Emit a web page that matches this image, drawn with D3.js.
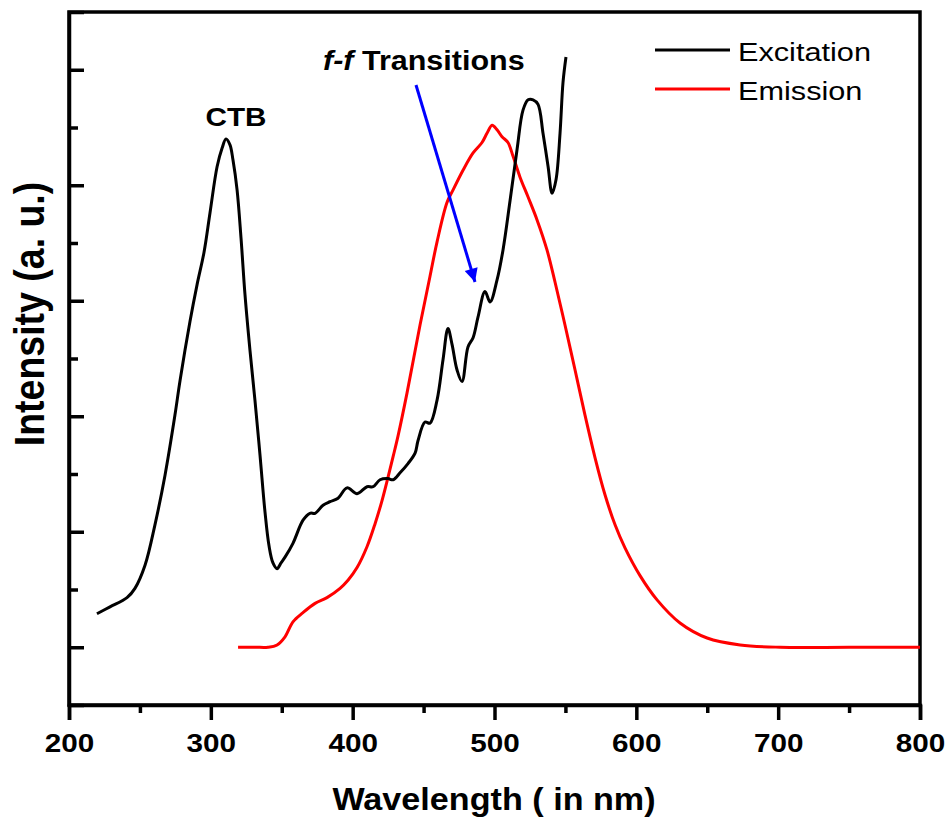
<!DOCTYPE html>
<html>
<head>
<meta charset="utf-8">
<script src="https://cdn.jsdelivr.net/npm/d3@7"></script>
<style>
  html, body { margin: 0; padding: 0; background: #fff; }
  svg { display: block; font-family: Arial, "Liberation Sans", sans-serif; }
</style>
</head>
<body>
<svg id="chart" width="951" height="823"></svg>
<script>
// ---- data ----
const excitationWavelength = [219.7, 228.9, 240.9, 246.5, 253.6, 260.6, 267.7, 274.7, 278.3, 285.3, 290.3, 295.2, 299.4, 304.4, 307.9, 310.7, 313.5, 315.6, 318.5, 321.3, 324.1, 327.6, 331.1, 334.7, 338.2, 341.0, 343.8, 346.7, 349.5, 352.3, 357.9, 365.0, 369.9, 373.5, 379.1, 384.0, 389.7, 396.0, 403.1, 410.1, 414.4, 419.3, 424.9, 428.5, 433.4, 439.0, 444.0, 446.1, 451.0, 454.5, 459.5, 463.7, 467.2, 470.1, 473.6, 477.1, 481.3, 484.9, 488.4, 493.3, 496.9, 501.8, 506.0, 511.0, 515.9, 520.1, 523.7, 527.2, 530.7, 534.2, 537.8, 540.6, 543.4, 546.2, 548.3, 550.4];
const excitationIntensity = [0.29, 0.35, 0.43, 0.51, 0.71, 1.06, 1.49, 2.01, 2.31, 2.82, 3.14, 3.42, 3.76, 4.16, 4.32, 4.40, 4.35, 4.22, 3.96, 3.54, 3.05, 2.57, 2.14, 1.66, 1.17, 0.88, 0.73, 0.68, 0.73, 0.78, 0.90, 1.10, 1.16, 1.16, 1.23, 1.26, 1.29, 1.38, 1.33, 1.39, 1.39, 1.45, 1.46, 1.45, 1.51, 1.59, 1.68, 1.79, 1.95, 1.94, 2.14, 2.49, 2.76, 2.62, 2.40, 2.30, 2.60, 2.68, 2.86, 3.08, 2.99, 3.18, 3.44, 3.87, 4.31, 4.65, 4.74, 4.74, 4.70, 4.45, 4.16, 3.93, 4.05, 4.45, 4.89, 5.11];

const emissionWavelength = [319.2, 331.2, 340.3, 346.7, 352.3, 357.9, 365.0, 373.5, 381.9, 391.1, 396.7, 403.1, 410.1, 415.8, 420.7, 424.9, 428.5, 432.0, 438.3, 447.5, 454.5, 459.5, 466.5, 470.8, 477.8, 484.9, 491.2, 494.7, 498.3, 501.8, 505.3, 509.5, 513.1, 518.0, 523.6, 530.0, 537.0, 542.7, 549.7, 556.8, 563.8, 570.9, 577.9, 585.0, 592.0, 602.6, 614.6, 630.8, 649.9, 673.2, 701.4, 750.0, 800.0];
const emissionIntensity = [0.00, 0.00, 0.00, 0.02, 0.09, 0.22, 0.30, 0.38, 0.43, 0.51, 0.58, 0.69, 0.87, 1.07, 1.27, 1.47, 1.65, 1.83, 2.20, 2.79, 3.21, 3.51, 3.85, 3.96, 4.13, 4.28, 4.37, 4.45, 4.52, 4.48, 4.42, 4.37, 4.25, 4.07, 3.90, 3.70, 3.44, 3.16, 2.79, 2.40, 2.01, 1.64, 1.32, 1.06, 0.86, 0.62, 0.41, 0.21, 0.08, 0.02, 0.00, 0.00, 0.00];

const xMajorTicks = [200, 300, 400, 500, 600, 700, 800];
const xMinorTicks = [250, 350, 450, 550, 650, 750];
const yMajorTicks = [0, 1, 2, 3, 4, 5];
const yMinorTicks = [0.5, 1.5, 2.5, 3.5, 4.5];
const seriesNames = ["Excitation", "Emission"];
const seriesColors = ["#000000", "#ff0000"];

// ---- layout ----
const svg = d3.select("#chart");
const plotLeft = 69, plotRight = 920, plotTop = 12, plotBottom = 705;
const x = d3.scaleLinear().domain([200, 800]).range([plotLeft, plotRight]);
const y = d3.scaleLinear().domain([-0.5, 5.5]).range([plotBottom, plotTop]);
const SX = 1.12; // horizontal stretch of the original picture's text

// frame
svg.append("rect")
  .attr("x", plotLeft).attr("y", plotTop)
  .attr("width", plotRight - plotLeft).attr("height", plotBottom - plotTop)
  .attr("fill", "none").attr("stroke", "#000").attr("stroke-width", 3.5);

// x axis major
const gxMajor = svg.append("g").attr("transform", `translate(0,${plotBottom})`)
  .call(d3.axisBottom(x).tickValues(xMajorTicks).tickSize(15).tickPadding(30).tickFormat(d3.format("d")));
gxMajor.select(".domain").attr("stroke-width", 3.5);
gxMajor.selectAll(".tick line").attr("stroke-width", 3.5);
gxMajor.selectAll(".tick text").each(function(d) {
  const t = d3.select(this);
  t.attr("y", null).attr("dy", null)
   .attr("transform", `translate(0,47) scale(${SX},1)`)
   .attr("font-size", 26.5).attr("font-weight", "bold").attr("fill", "#000")
   .attr("font-family", "Arial, 'Liberation Sans', sans-serif");
});
// x axis minor
const gxMinor = svg.append("g").attr("transform", `translate(0,${plotBottom})`)
  .call(d3.axisBottom(x).tickValues(xMinorTicks).tickSize(8).tickFormat(""));
gxMinor.select(".domain").remove();
gxMinor.selectAll(".tick line").attr("stroke-width", 3.5);

// y axis major (inward ticks)
const gyMajor = svg.append("g").attr("transform", `translate(${plotLeft},0)`)
  .call(d3.axisLeft(y).tickValues(yMajorTicks).tickSize(-15).tickFormat(""));
gyMajor.select(".domain").attr("stroke-width", 3.5);
gyMajor.selectAll(".tick line").attr("stroke-width", 3.5);
const gyMinor = svg.append("g").attr("transform", `translate(${plotLeft},0)`)
  .call(d3.axisLeft(y).tickValues(yMinorTicks).tickSize(-9).tickFormat(""));
gyMinor.select(".domain").remove();
gyMinor.selectAll(".tick line").attr("stroke-width", 3.5);

// axis titles
svg.append("text")
  .attr("transform", `translate(494,810) scale(${SX},1)`)
  .attr("text-anchor", "middle").attr("font-size", 30.5).attr("font-weight", "bold")
  .text("Wavelength ( in nm)");
svg.append("text")
  .attr("transform", `translate(44,314) scale(${SX},1) rotate(-90)`)
  .attr("text-anchor", "middle").attr("font-size", 37.5).attr("font-weight", "bold")
  .text("Intensity (a. u.)");

// curves
const line = d3.line()
  .x(d => x(d[0])).y(d => y(d[1]))
  .curve(d3.curveCatmullRom.alpha(0.5));
const excData = d3.zip(excitationWavelength, excitationIntensity);
const emiData = d3.zip(emissionWavelength, emissionIntensity);

svg.append("path").datum(emiData)
  .attr("d", line).attr("fill", "none")
  .attr("stroke", seriesColors[1]).attr("stroke-width", 3).attr("stroke-linejoin", "round");
svg.append("path").datum(excData)
  .attr("d", line).attr("fill", "none")
  .attr("stroke", seriesColors[0]).attr("stroke-width", 3).attr("stroke-linejoin", "round");

// annotations
svg.append("text")
  .attr("transform", `translate(236,126) scale(${SX},1)`)
  .attr("text-anchor", "middle").attr("font-size", 26.5).attr("font-weight", "bold")
  .text("CTB");

const ff = svg.append("text")
  .attr("transform", `translate(323,70) scale(${SX - 0.03},1)`)
  .attr("font-size", 28).attr("font-weight", "bold");
ff.append("tspan").attr("font-style", "italic").text("f-f");
ff.append("tspan").text(" Transitions");

// arrow
const defs = svg.append("defs");
defs.append("marker")
  .attr("id", "arrowhead").attr("viewBox", "0 0 10 10")
  .attr("refX", 10).attr("refY", 5)
  .attr("markerWidth", 7).attr("markerHeight", 4.5)
  .attr("markerUnits", "strokeWidth")
  .attr("orient", "auto")
  .append("path").attr("d", "M0,0 L10,5 L0,10 Z").attr("fill", "#0000ff");
svg.append("line")
  .attr("x1", 416).attr("y1", 85).attr("x2", 475).attr("y2", 282)
  .attr("stroke", "#0000ff").attr("stroke-width", 3)
  .attr("marker-end", "url(#arrowhead)");

// legend
const legendY = [50, 89];
seriesNames.forEach((name, i) => {
  svg.append("line")
    .attr("x1", 655).attr("x2", 730)
    .attr("y1", legendY[i]).attr("y2", legendY[i])
    .attr("stroke", seriesColors[i]).attr("stroke-width", 3);
  svg.append("text")
    .attr("transform", `translate(738,${legendY[i] + 11}) scale(1.18,1)`)
    .attr("font-size", 26)
    .text(name);
});
</script>
</body>
</html>
